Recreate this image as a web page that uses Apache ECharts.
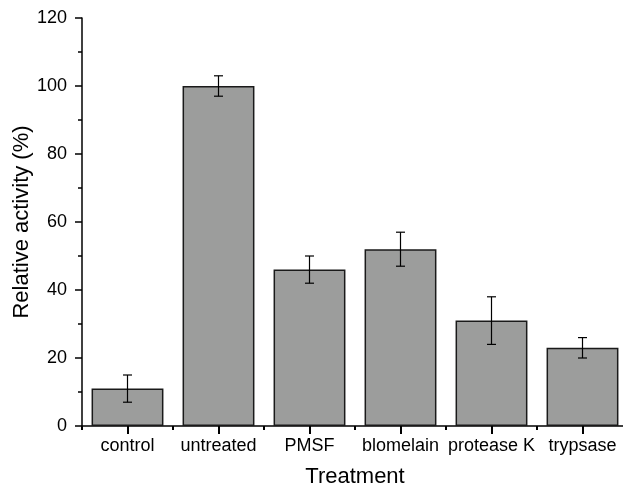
<!DOCTYPE html>
<html>
<head>
<meta charset="utf-8">
<script src="https://cdn.jsdelivr.net/npm/echarts@6/dist/echarts.min.js"></script>
<style>
  html, body { margin: 0; padding: 0; background: #fff; }
  #main { width: 623px; height: 488px; }
</style>
</head>
<body>
<div id="main"></div>
<script>
var categories = ['control', 'untreated', 'PMSF', 'blomelain', 'protease K', 'trypsase'];
var activity = [11, 100, 46, 52, 31, 23];
var errors = [4, 3, 4, 5, 7, 3];

var chart = echarts.init(document.getElementById('main'));

// [index, low, high] for the error bars
var errData = categories.map(function (c, i) {
    return [i, activity[i] - errors[i], activity[i] + errors[i]];
});

var font = 'Liberation Sans, Arial, sans-serif';

chart.setOption({
    animation: false,
    grid: { left: 82, right: -5, top: 18, bottom: 62, outerBoundsMode: 'none' },
    xAxis: [{
        type: 'category',
        data: categories,
        axisLine: { lineStyle: { color: '#000', width: 1.5 } },
        axisTick: { show: true, alignWithLabel: true, length: 8, lineStyle: { color: '#000', width: 2 } },
        axisLabel: { color: '#000', fontSize: 18, fontFamily: font, margin: 11, interval: 0 },
        name: 'Treatment',
        nameLocation: 'middle',
        nameGap: 40,
        nameTextStyle: { color: '#000', fontSize: 22, fontFamily: font }
    }, {
        // short ticks between categories
        type: 'category',
        data: categories,
        position: 'bottom',
        axisLine: { show: false },
        axisTick: { show: true, interval: 0, length: 4, lineStyle: { color: '#000', width: 2 } },
        axisLabel: { show: false }
    }],
    yAxis: {
        type: 'value',
        min: 0,
        max: 120,
        interval: 20,
        splitLine: { show: false },
        axisLine: { show: true, lineStyle: { color: '#000', width: 1.5 } },
        axisTick: { show: true, length: 7, lineStyle: { color: '#000', width: 1.5 } },
        minorTick: { show: true, splitNumber: 2, length: 4, lineStyle: { color: '#000', width: 1.5 } },
        axisLabel: { color: '#000', fontSize: 18, fontFamily: font, margin: 15 },
        name: 'Relative activity (%)',
        nameLocation: 'middle',
        nameGap: 49,
        nameMoveOverlap: false,
        nameTextStyle: { color: '#000', fontSize: 22, fontFamily: font }
    },
    series: [{
        type: 'bar',
        data: activity,
        barWidth: '79%',
        itemStyle: { color: '#9c9d9c', borderColor: '#1a1a1a', borderWidth: 1.5 }
    }, {
        type: 'custom',
        data: errData,
        z: 10,
        renderItem: function (params, api) {
            var x = api.value(0);
            var lo = api.coord([x, api.value(1)]);
            var hi = api.coord([x, api.value(2)]);
            var hw = 4.5;
            var style = { stroke: '#000', lineWidth: 1.2 };
            return {
                type: 'group',
                children: [
                    { type: 'line', shape: { x1: lo[0], y1: lo[1], x2: hi[0], y2: hi[1] }, style: style },
                    { type: 'line', shape: { x1: lo[0] - hw, y1: lo[1], x2: lo[0] + hw, y2: lo[1] }, style: style },
                    { type: 'line', shape: { x1: hi[0] - hw, y1: hi[1], x2: hi[0] + hw, y2: hi[1] }, style: style }
                ]
            };
        }
    }]
});
</script>
</body>
</html>
